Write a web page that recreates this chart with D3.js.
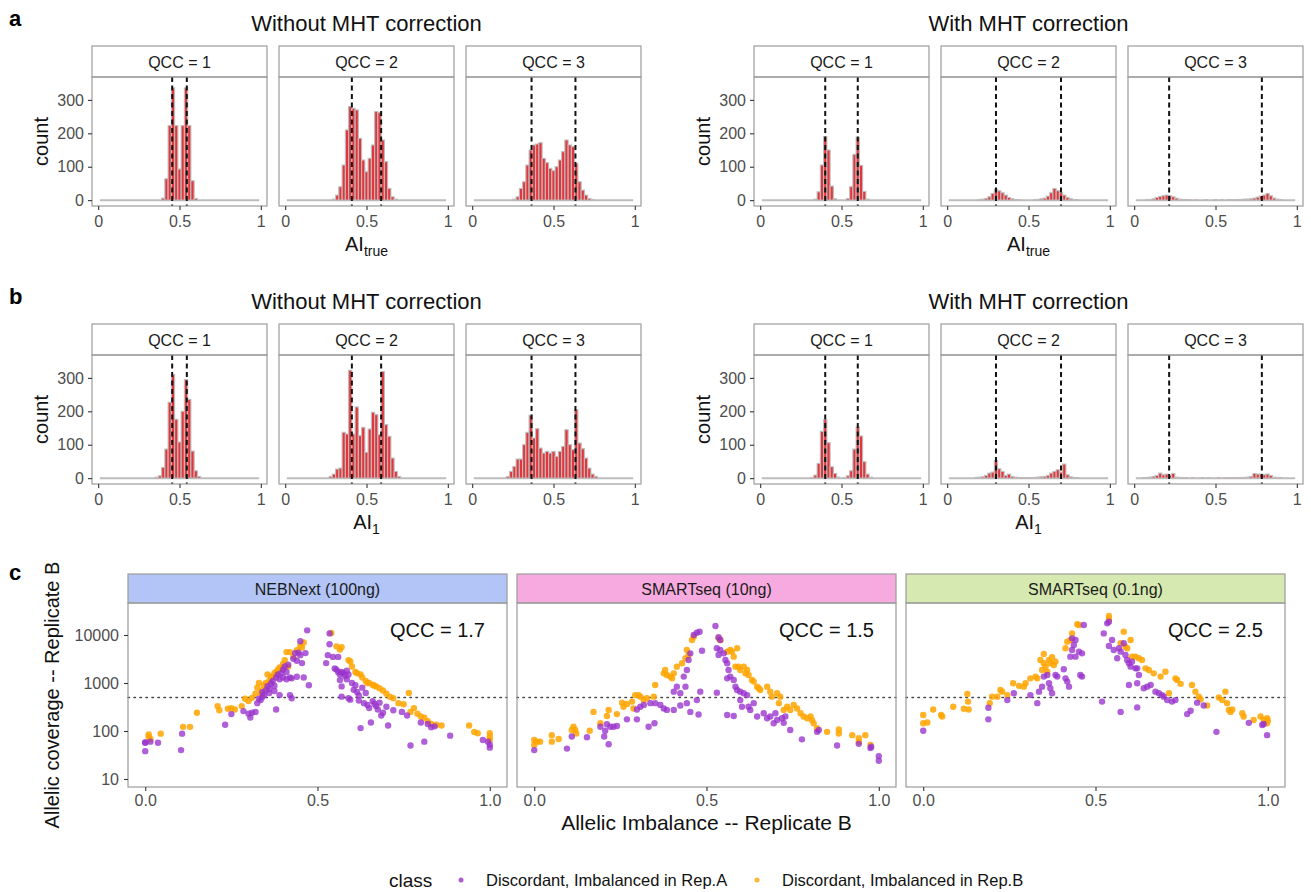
<!DOCTYPE html>
<html>
<head>
<meta charset="utf-8">
<script src="https://cdn.jsdelivr.net/npm/d3@7"></script>
<style>
  body { margin: 0; background: #fff; }
  svg { display: block; }
  text { font-family: "Liberation Sans", Arial, Helvetica, sans-serif; }
</style>
</head>
<body>
<svg id="fig" width="1311" height="892"></svg>
<script>
// ---------- histogram data (bin width 0.02, counts listed from the bin centred at `start`) ----------
const qccLabels = ["QCC = 1", "QCC = 2", "QCC = 3"];

// AI_true, without MHT correction
const trueRawQ1 = { start: 0.40, counts: [6, 64, 223, 336, 223, 93, 223, 336, 223, 58, 5] };
const trueRawQ2 = { start: 0.30, counts: [3, 15, 40, 105, 210, 280, 275, 270, 185, 120, 85, 125, 165, 265, 262, 180, 115, 35, 10, 3] };
const trueRawQ3 = { start: 0.26, counts: [3, 10, 35, 55, 105, 150, 165, 168, 172, 125, 112, 95, 88, 100, 120, 145, 180, 165, 160, 110, 55, 30, 15, 5, 2] };
// AI_true, with MHT correction
const trueMhtQ1 = { start: 0.34, counts: [3, 25, 105, 190, 150, 42, 4, 0, 0, 0, 5, 40, 137, 188, 104, 26, 3] };
const trueMhtQ2 = { start: 0.20, counts: [2, 3, 5, 10, 20, 33, 28, 22, 15, 8, 4, 2, 1, 0, 0, 0, 0, 1, 2, 4, 6, 12, 22, 35, 28, 22, 15, 8, 4, 2, 1] };
const trueMhtQ3 = { start: 0.08, counts: [1, 2, 4, 8, 11, 13, 15, 13, 10, 6, 3, 2, 1, 1, 0, 1, 0, 0, 1, 0, 0, 1, 0, 1, 0, 1, 1, 1, 2, 2, 3, 3, 4, 6, 9, 12, 15, 20, 13, 6, 3, 1] };
// AI_1, without MHT correction
const oneRawQ1 = { start: 0.36, counts: [3, 7, 32, 87, 227, 310, 176, 108, 200, 295, 236, 81, 22, 5] };
const oneRawQ2 = { start: 0.28, counts: [5, 12, 27, 30, 137, 132, 323, 132, 213, 127, 152, 77, 147, 197, 190, 130, 319, 160, 125, 60, 20, 5] };
const oneRawQ3 = { start: 0.22, counts: [5, 20, 35, 57, 57, 100, 137, 188, 120, 148, 90, 75, 80, 75, 80, 65, 80, 95, 145, 100, 85, 205, 105, 88, 60, 30, 12, 5] };
// AI_1, with MHT correction
const oneMhtQ1 = { start: 0.32, counts: [2, 9, 44, 140, 175, 106, 34, 14, 3, 0, 2, 7, 22, 87, 153, 126, 49, 12, 3] };
const oneMhtQ2 = { start: 0.18, counts: [2, 3, 4, 8, 15, 18, 52, 28, 20, 8, 12, 5, 3, 2, 1, 1, 1, 1, 2, 3, 4, 5, 8, 15, 20, 25, 18, 42, 10, 4, 2, 1] };
const oneMhtQ3 = { start: 0.06, counts: [1, 2, 3, 5, 8, 15, 10, 12, 8, 14, 3, 2, 1, 1, 0, 1, 0, 0, 1, 0, 1, 0, 0, 1, 0, 1, 1, 1, 1, 1, 2, 2, 3, 5, 14, 12, 12, 10, 12, 8, 3, 2, 1] };

// expected AI positions (dashed lines) per QCC
const refNoMht = [[0.455, 0.545], [0.41, 0.59], [0.365, 0.635]];
const refMht = [[0.40, 0.60], [0.30, 0.70], [0.215, 0.785]];

const histTicksX = [0, 0.5, 1];
const histTicksY = [0, 100, 200, 300];
const histCountMax = 351;
const binFirst = 0.02, binLast = 0.98, binWidth = 0.02;

// ---------- scatter data: [allelic imbalance, allelic coverage] ----------
const platforms = ["NEBNext (100ng)", "SMARTseq (10ng)", "SMARTseq (0.1ng)"];
const qccScores = [1.7, 1.5, 2.5];
const coverageCut = 500;
const covTicks = [10, 100, 1000, 10000];
const aiTicks = [0, 0.5, 1];
const classNames = ["Discordant, Imbalanced in Rep.A", "Discordant, Imbalanced in Rep.B"];

const nebnextA = [[0.00,58],[0.00,38],[0.00,57],[0.015,60],[0.037,57],[0.104,40],[0.107,88],[0.232,135],[0.25,225],[0.285,260],[0.30,230],[0.305,190],[0.31,240],[0.32,250],[0.325,380],[0.33,470],[0.335,440],[0.34,510],[0.34,640],[0.345,560],[0.35,700],[0.355,860],[0.36,620],[0.36,760],[0.365,980],[0.37,1100],[0.375,880],[0.375,680],[0.38,1300],[0.38,280],[0.385,1500],[0.39,1200],[0.39,560],[0.395,1600],[0.40,1900],[0.40,1300],[0.405,2200],[0.41,1700],[0.41,1200],[0.415,2400],[0.42,1300],[0.42,560],[0.425,480],[0.425,1250],[0.43,3200],[0.435,4200],[0.44,2900],[0.44,1350],[0.445,4300],[0.45,7400],[0.45,3800],[0.455,2600],[0.46,1300],[0.465,4200],[0.47,12500],[0.475,900],[0.525,2600],[0.53,3800],[0.535,10800],[0.535,6400],[0.545,3500],[0.55,2000],[0.555,1900],[0.56,3500],[0.56,1700],[0.565,1500],[0.565,1150],[0.57,1700],[0.57,850],[0.57,520],[0.575,1600],[0.58,1400],[0.585,1800],[0.585,1200],[0.59,1500],[0.59,480],[0.595,450],[0.60,1000],[0.605,720],[0.61,900],[0.615,650],[0.62,550],[0.62,430],[0.625,115],[0.63,800],[0.635,380],[0.64,620],[0.645,350],[0.65,300],[0.655,150],[0.66,420],[0.665,370],[0.67,330],[0.675,280],[0.68,390],[0.685,210],[0.69,240],[0.70,320],[0.705,130],[0.72,270],[0.745,250],[0.76,210],[0.77,50],[0.80,150],[0.81,60],[0.82,140],[0.83,120],[0.84,125],[0.885,80],[0.98,65],[0.995,60],[1.0,52],[1.0,45]];
const nebnextB = [[0.01,85],[0.01,75],[0.015,68],[0.045,88],[0.11,122],[0.13,122],[0.15,240],[0.21,330],[0.215,270],[0.24,290],[0.25,300],[0.26,280],[0.28,330],[0.29,470],[0.30,420],[0.31,490],[0.32,600],[0.325,800],[0.33,1000],[0.335,620],[0.34,720],[0.345,900],[0.35,1000],[0.355,1500],[0.36,1100],[0.365,1300],[0.37,1400],[0.375,1600],[0.38,1700],[0.385,1900],[0.39,2100],[0.395,2000],[0.40,2500],[0.405,3000],[0.41,4400],[0.415,2200],[0.42,4400],[0.43,3500],[0.44,4800],[0.45,6000],[0.455,5500],[0.46,7000],[0.54,11000],[0.555,5800],[0.565,5000],[0.57,5600],[0.59,3000],[0.595,2800],[0.60,2200],[0.61,1700],[0.615,1600],[0.625,1500],[0.63,1300],[0.64,1100],[0.645,1000],[0.65,1000],[0.66,920],[0.665,880],[0.67,850],[0.68,780],[0.69,700],[0.70,600],[0.71,520],[0.72,480],[0.735,380],[0.75,360],[0.765,620],[0.77,250],[0.78,300],[0.79,230],[0.80,200],[0.81,190],[0.82,160],[0.83,140],[0.845,135],[0.86,130],[0.94,130],[0.955,95],[0.965,90],[1.0,90],[1.0,75],[1.0,65]];

const smart10A = [[0.00,40],[0.095,43],[0.109,77],[0.153,74],[0.192,123],[0.211,138],[0.221,123],[0.230,123],[0.240,127],[0.216,53],[0.203,77],[0.206,101],[0.269,175],[0.298,175],[0.298,280],[0.308,320],[0.332,123],[0.349,145],[0.318,350],[0.337,380],[0.351,380],[0.366,350],[0.376,295],[0.385,275],[0.405,275],[0.424,340],[0.443,380],[0.453,250],[0.477,220],[0.472,440],[0.482,660],[0.405,660],[0.414,840],[0.424,610],[0.434,1360],[0.439,840],[0.443,1870],[0.448,3020],[0.453,4150],[0.463,10000],[0.472,11200],[0.480,11700],[0.487,4700],[0.526,15400],[0.535,9000],[0.540,7870],[0.530,5280],[0.540,4870],[0.550,4150],[0.535,3830],[0.555,3020],[0.560,2570],[0.564,1870],[0.569,1360],[0.560,1250],[0.579,1160],[0.530,630],[0.560,215],[0.579,205],[0.584,840],[0.589,715],[0.598,660],[0.608,610],[0.618,560],[0.598,440],[0.603,320],[0.622,320],[0.627,275],[0.637,380],[0.647,200],[0.666,235],[0.676,185],[0.685,200],[0.695,145],[0.700,235],[0.705,170],[0.719,185],[0.724,148],[0.729,200],[0.743,105],[0.777,67],[0.821,96],[0.826,105],[0.879,50],[0.942,54],[0.976,44],[0.978,47],[1.000,30],[1.000,24]];
const smart10B = [[0.00,65],[0.00,51],[0.008,60],[0.017,60],[0.051,82],[0.051,60],[0.071,68],[0.109,105],[0.114,123],[0.119,105],[0.122,89],[0.161,101],[0.172,250],[0.192,145],[0.211,205],[0.216,275],[0.240,225],[0.255,390],[0.259,320],[0.269,365],[0.284,410],[0.288,295],[0.293,560],[0.303,560],[0.308,520],[0.318,440],[0.327,480],[0.347,520],[0.351,910],[0.376,1590],[0.380,1870],[0.385,1470],[0.395,1360],[0.400,1250],[0.405,1590],[0.414,2190],[0.429,2570],[0.439,3270],[0.443,4870],[0.448,3830],[0.458,7870],[0.463,9230],[0.535,8520],[0.540,7870],[0.560,4500],[0.569,4870],[0.574,4500],[0.579,3540],[0.584,2190],[0.589,5280],[0.593,2190],[0.598,1870],[0.608,2190],[0.613,1590],[0.618,1870],[0.622,1470],[0.632,1160],[0.637,1070],[0.647,840],[0.652,775],[0.656,715],[0.676,840],[0.685,660],[0.690,520],[0.705,610],[0.710,380],[0.714,520],[0.724,275],[0.734,320],[0.743,275],[0.753,350],[0.763,295],[0.773,235],[0.782,200],[0.792,185],[0.802,200],[0.806,170],[0.811,145],[0.821,114],[0.850,96],[0.884,108],[0.884,89],[0.923,82],[0.942,71],[0.961,82],[0.942,60],[0.976,51]];

const smart01A = [[0.000,101],[0.189,175],[0.189,305],[0.244,440],[0.263,610],[0.311,560],[0.331,380],[0.336,660],[0.345,840],[0.350,1360],[0.360,1470],[0.365,990],[0.369,775],[0.374,610],[0.384,1470],[0.389,1360],[0.408,1930],[0.413,1250],[0.418,1070],[0.423,840],[0.427,3540],[0.432,4870],[0.437,6190],[0.442,7870],[0.432,8520],[0.442,3540],[0.452,4500],[0.461,4150],[0.456,1470],[0.461,1360],[0.466,16100],[0.519,410],[0.524,10800],[0.534,17500],[0.539,18950],[0.539,5900],[0.548,7870],[0.553,4870],[0.563,3270],[0.568,5280],[0.573,4500],[0.582,6710],[0.587,3830],[0.592,3020],[0.597,2570],[0.602,2190],[0.606,2790],[0.616,2020],[0.621,2020],[0.626,1470],[0.597,910],[0.621,990],[0.573,250],[0.621,310],[0.640,775],[0.650,840],[0.660,910],[0.674,660],[0.684,610],[0.693,560],[0.698,520],[0.708,440],[0.722,410],[0.732,440],[0.766,225],[0.776,265],[0.795,390],[0.814,340],[0.851,96],[0.945,148],[0.984,133],[0.988,140],[0.998,82]];
const smart01B = [[0.000,215],[0.000,145],[0.012,150],[0.029,280],[0.052,215],[0.055,200],[0.087,320],[0.118,290],[0.128,590],[0.130,410],[0.132,280],[0.193,380],[0.200,520],[0.215,520],[0.224,715],[0.229,660],[0.244,560],[0.261,990],[0.278,870],[0.292,840],[0.297,990],[0.311,1250],[0.326,1360],[0.331,1250],[0.340,3020],[0.345,1870],[0.350,2570],[0.355,2190],[0.360,1720],[0.365,3020],[0.369,2570],[0.374,3430],[0.379,2370],[0.384,2790],[0.350,4020],[0.413,5280],[0.418,7270],[0.427,7870],[0.432,10800],[0.447,16800],[0.452,16100],[0.539,24900],[0.539,21200],[0.573,6710],[0.582,11700],[0.587,5720],[0.592,5280],[0.602,7870],[0.606,3540],[0.616,3540],[0.626,3270],[0.635,3020],[0.645,2020],[0.655,1870],[0.669,1590],[0.689,1360],[0.703,1720],[0.713,610],[0.732,1250],[0.737,1160],[0.747,960],[0.780,910],[0.790,660],[0.800,520],[0.805,460],[0.824,340],[0.858,500],[0.868,440],[0.877,660],[0.882,380],[0.887,275],[0.892,250],[0.897,280],[0.926,235],[0.930,200],[0.959,170],[0.979,200],[0.988,170],[0.998,185],[1.000,163],[0.998,145]];

// ---------- drawing ----------
const svg = d3.select("#fig");
const TICK_TEXT = "#4d4d4d";
const BORDER = "#9c9c9c";

function binsFrom(h) {
  return h.counts.map((n, i) => ({ c: +(h.start + i * binWidth).toFixed(2), n }));
}

function styleAxis(ax, size) {
  ax.select(".domain").remove();
  ax.selectAll(".tick line").attr("stroke", "#333").attr("stroke-width", 1.1);
  ax.selectAll(".tick text").attr("fill", TICK_TEXT).attr("font-size", size)
    .attr("font-family", '"Liberation Sans", Arial, sans-serif');
}

function histFacet(x0, stripTop, label, hist, refs) {
  const w = 175, stripH = 31, panelH = 129;
  const top = stripTop + stripH, bottom = top + panelH;
  const pad = 0.049 * (binLast - binFirst + binWidth);
  const xs = d3.scaleLinear().domain([binFirst - binWidth / 2 - pad, binLast + binWidth / 2 + pad]).range([x0, x0 + w]);
  const ys = d3.scaleLinear().domain([-0.05 * histCountMax, 1.05 * histCountMax]).range([bottom, top]);
  const g = svg.append("g");

  g.append("rect").attr("x", x0).attr("y", stripTop).attr("width", w).attr("height", stripH)
    .attr("fill", "#fff").attr("stroke", BORDER).attr("stroke-width", 1.2);
  g.append("text").attr("x", x0 + w / 2).attr("y", stripTop + stripH / 2 + 6)
    .attr("text-anchor", "middle").attr("font-size", 16).attr("fill", "#1a1a1a").text(label);

  // zero-count bins form the grey floor of the histogram
  g.append("line").attr("x1", xs(binFirst - binWidth / 2)).attr("x2", xs(binLast + binWidth / 2))
    .attr("y1", ys(0)).attr("y2", ys(0)).attr("stroke", "#bdbdbd").attr("stroke-width", 2);

  const bins = binsFrom(hist).filter(d => d.n > 0);
  g.selectAll("rect.bar").data(bins).enter().append("rect").attr("class", "bar")
    .attr("x", d => xs(d.c - binWidth / 2)).attr("width", d => xs(d.c + binWidth / 2) - xs(d.c - binWidth / 2))
    .attr("y", d => ys(d.n)).attr("height", d => ys(0) - ys(d.n))
    .attr("fill", "#e3363c").attr("stroke", "#bdbdbd").attr("stroke-width", 1.1);

  g.selectAll("line.ref").data(refs).enter().append("line").attr("class", "ref")
    .attr("x1", d => xs(d)).attr("x2", d => xs(d)).attr("y1", top).attr("y2", bottom)
    .attr("stroke", "#111").attr("stroke-width", 2).attr("stroke-dasharray", "5,3.5");

  g.append("rect").attr("x", x0).attr("y", top).attr("width", w).attr("height", panelH)
    .attr("fill", "none").attr("stroke", BORDER).attr("stroke-width", 1.2);

  const ax = g.append("g").attr("transform", `translate(0,${bottom})`)
    .call(d3.axisBottom(xs).tickValues(histTicksX).tickFormat(d => String(d)).tickSize(4).tickPadding(6));
  styleAxis(ax, 16);
  return { xs, ys, top, bottom, g };
}

function histGroup(groupX, stripTop, title, hists, refSet, sub) {
  let first;
  hists.forEach((h, i) => {
    const f = histFacet(groupX[i], stripTop, qccLabels[i], h, refSet[i]);
    if (i === 0) first = f;
  });
  const ay = svg.append("g").attr("transform", `translate(${groupX[0]},0)`)
    .call(d3.axisLeft(first.ys).tickValues(histTicksY).tickSize(4).tickPadding(4));
  styleAxis(ay, 16);

  const cx = (groupX[0] + groupX[2] + 175) / 2;
  svg.append("text").attr("x", cx).attr("y", stripTop - 15).attr("text-anchor", "middle")
    .attr("font-size", 22).attr("fill", "#111").text(title);
  svg.append("text").attr("transform", `translate(${groupX[0] - 44},${(first.top + first.bottom) / 2}) rotate(-90)`)
    .attr("text-anchor", "middle").attr("font-size", 20).attr("fill", "#111").text("count");
  const xl = svg.append("text").attr("x", cx).attr("y", first.bottom + 45).attr("text-anchor", "middle")
    .attr("font-size", 20).attr("fill", "#111");
  xl.append("tspan").text("AI");
  xl.append("tspan").attr("dy", 5).attr("font-size", 14).text(sub);
}

const leftX = [92, 279, 466];
const rightX = [754, 941, 1128];

// panel a
svg.append("text").attr("x", 9).attr("y", 26).attr("font-size", 22).attr("font-weight", "bold").text("a");
histGroup(leftX, 46, "Without MHT correction", [trueRawQ1, trueRawQ2, trueRawQ3], refNoMht, "true");
histGroup(rightX, 46, "With MHT correction", [trueMhtQ1, trueMhtQ2, trueMhtQ3], refMht, "true");

// panel b
svg.append("text").attr("x", 9).attr("y", 304).attr("font-size", 22).attr("font-weight", "bold").text("b");
histGroup(leftX, 324, "Without MHT correction", [oneRawQ1, oneRawQ2, oneRawQ3], refNoMht, "1");
histGroup(rightX, 324, "With MHT correction", [oneMhtQ1, oneMhtQ2, oneMhtQ3], refMht, "1");

// panel c
svg.append("text").attr("x", 9).attr("y", 580).attr("font-size", 22).attr("font-weight", "bold").text("c");
const scatterX = [128, 517, 906];
const stripFill = ["#b2c5f6", "#f7aadf", "#d6e9b0"];
const classColor = ["#9932cc", "#ffa500"];
const scatterData = [[nebnextA, nebnextB], [smart10A, smart10B], [smart01A, smart01B]];
const sW = 379, sStripTop = 574, sStripH = 29, sTop = 603, sBottom = 787;
let firstYs;
platforms.forEach((name, i) => {
  const x0 = scatterX[i];
  const xs = d3.scaleLinear().domain([-0.05, 1.05]).range([x0, x0 + sW]);
  const ys = d3.scaleLog().domain([Math.pow(10, 0.8333), Math.pow(10, 4.6667)]).range([sBottom, sTop]);
  if (i === 0) firstYs = ys;
  const g = svg.append("g");
  g.append("rect").attr("x", x0).attr("y", sStripTop).attr("width", sW).attr("height", sStripH)
    .attr("fill", stripFill[i]).attr("stroke", BORDER).attr("stroke-width", 1.2);
  g.append("text").attr("x", x0 + sW / 2).attr("y", sStripTop + sStripH / 2 + 6)
    .attr("text-anchor", "middle").attr("font-size", 16).attr("fill", "#1a1a1a").text(name);

  g.append("line").attr("x1", x0).attr("x2", x0 + sW).attr("y1", ys(coverageCut)).attr("y2", ys(coverageCut))
    .attr("stroke", "#444").attr("stroke-width", 1.6).attr("stroke-dasharray", "1.4,4.6").attr("stroke-linecap", "round");

  [1, 0].forEach(k => {
    g.selectAll(null).data(scatterData[i][k]).enter().append("circle")
      .attr("cx", d => xs(d[0])).attr("cy", d => ys(d[1])).attr("r", 3.2)
      .attr("fill", classColor[k]).attr("fill-opacity", k === 0 ? 0.78 : 0.85);
  });

  g.append("text").attr("x", x0 + sW - 22).attr("y", sTop + 34).attr("text-anchor", "end")
    .attr("font-size", 20).attr("fill", "#111").text("QCC = " + qccScores[i].toFixed(1));

  g.append("rect").attr("x", x0).attr("y", sTop).attr("width", sW).attr("height", sBottom - sTop)
    .attr("fill", "none").attr("stroke", BORDER).attr("stroke-width", 1.2);

  const ax = g.append("g").attr("transform", `translate(0,${sBottom})`)
    .call(d3.axisBottom(xs).tickValues(aiTicks).tickFormat(d3.format(".1f")).tickSize(4).tickPadding(4));
  styleAxis(ax, 16);
});
const ayc = svg.append("g").attr("transform", `translate(${scatterX[0]},0)`)
  .call(d3.axisLeft(firstYs).tickValues(covTicks).tickFormat(d3.format("d")).tickSize(4).tickPadding(5));
styleAxis(ayc, 16);

svg.append("text").attr("transform", `translate(59,${(sTop + sBottom) / 2}) rotate(-90)`)
  .attr("text-anchor", "middle").attr("font-size", 20).attr("fill", "#111").text("Allelic coverage -- Replicate B");
svg.append("text").attr("x", (scatterX[0] + scatterX[2] + sW) / 2).attr("y", 830)
  .attr("text-anchor", "middle").attr("font-size", 21).attr("fill", "#111").text("Allelic Imbalance -- Replicate B");

// legend
const lg = svg.append("g");
lg.append("text").attr("x", 389).attr("y", 887).attr("font-size", 19).attr("fill", "#111").text("class");
const legendX = [461, 757];
classNames.forEach((nm, k) => {
  lg.append("circle").attr("cx", legendX[k]).attr("cy", 880).attr("r", 2.5)
    .attr("fill", classColor[k]).attr("fill-opacity", 0.8);
  lg.append("text").attr("x", legendX[k] + 25).attr("y", 886).attr("font-size", 16.5).attr("fill", "#111").text(nm);
});
</script>
</body>
</html>
